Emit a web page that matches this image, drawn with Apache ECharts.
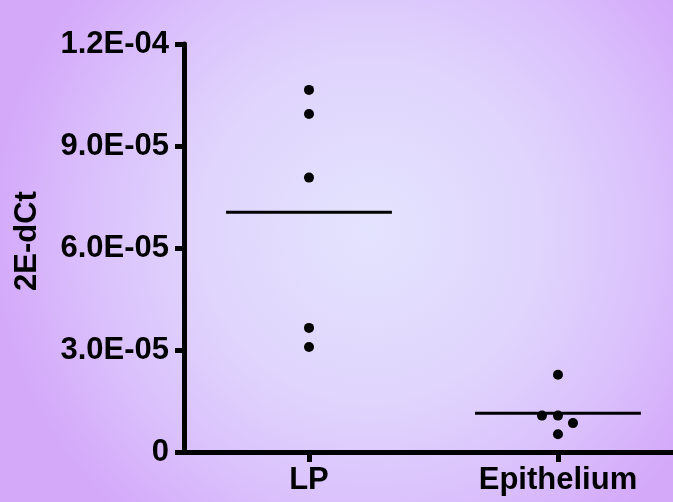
<!DOCTYPE html>
<html>
<head>
<meta charset="utf-8">
<script src="https://cdn.jsdelivr.net/npm/echarts@6/dist/echarts.min.js"></script>
<style>html,body{margin:0;padding:0;}#chart{width:673px;height:502px;}</style>
</head>
<body>
<div id="chart"></div>
<script>
const categories = ['LP', 'Epithelium'];
const lpValues = [1.065e-4, 9.94e-5, 8.07e-5, 3.65e-5, 3.09e-5];
const epiValues = [2.27e-5, 1.07e-5, 1.07e-5, 8.5e-6, 5.2e-6];
const means = [7.05e-5, 1.14e-5];
const yTickLabels = ['0', '3.0E-05', '6.0E-05', '9.0E-05', '1.2E-04'];
const yMax = 1.2e-4;
const yInterval = 3e-5;
const yName = '2E-dCt';

// horizontal jitter (pixels) for overlapping points — styling only
const epiOffsets = [0, -16, 0, 15, 0];

const font = 'Liberation Sans, Arial, sans-serif';
const fs = 31;
const chart = echarts.init(document.getElementById('chart'));

const catIdx = categories.map((c, i) => i);
const pointData = [];
lpValues.forEach(v => pointData.push({ value: [0, v] }));
epiValues.forEach((v, i) => pointData.push({ value: [1, v], symbolOffset: [epiOffsets[i], 0] }));

chart.setOption({
  backgroundColor: new echarts.graphic.RadialGradient(0.55, 0.46, 0.75, [
    { offset: 0, color: '#e4e3fe' },
    { offset: 0.45, color: '#e0d5fd' },
    { offset: 0.75, color: '#dac0fc' },
    { offset: 1, color: '#d4a9fa' }
  ]),
  animation: false,
  grid: { left: 184, right: 0, top: 44, bottom: 50, containLabel: false },
  xAxis: {
    type: 'value',
    min: -0.502,
    max: 1.462,
    axisLine: { show: true, onZero: false, lineStyle: { color: '#000', width: 5 } },
    axisTick: { show: true, customValues: catIdx, length: 10, lineStyle: { color: '#000', width: 5 } },
    axisLabel: {
      show: true, customValues: catIdx, color: '#000', fontSize: fs, fontWeight: 'bold', fontFamily: font, margin: 13,
      formatter: v => categories[Math.round(v)] || ''
    },
    splitLine: { show: false }
  },
  yAxis: {
    type: 'value',
    min: 0,
    max: yMax,
    interval: yInterval,
    name: yName,
    nameLocation: 'middle',
    nameGap: 141,
    nameTextStyle: { color: '#000', fontSize: fs, fontWeight: 'bold', fontFamily: font, padding: [0, 0, 0, 14] },
    axisLine: { show: true, onZero: false, lineStyle: { color: '#000', width: 5 } },
    axisTick: { show: true, length: 9, lineStyle: { color: '#000', width: 5 } },
    axisLabel: {
      color: '#000', fontSize: fs, fontWeight: 'bold', fontFamily: font, margin: 15,
      formatter: v => yTickLabels[Math.round(v / yInterval)]
    },
    splitLine: { show: false }
  },
  series: [
    {
      type: 'scatter',
      data: pointData,
      symbol: 'circle',
      symbolSize: 10,
      itemStyle: { color: '#000', opacity: 1 }
    },
    {
      type: 'custom',
      data: means.map((m, i) => [i, m]),
      renderItem: function (params, api) {
        const p = api.coord([api.value(0), api.value(1)]);
        const half = api.size([1, 0])[0] * 0.333;
        return {
          type: 'line',
          shape: { x1: p[0] - half, y1: p[1], x2: p[0] + half, y2: p[1] },
          style: { stroke: '#000', lineWidth: 3 }
        };
      }
    }
  ]
});
</script>
</body>
</html>
